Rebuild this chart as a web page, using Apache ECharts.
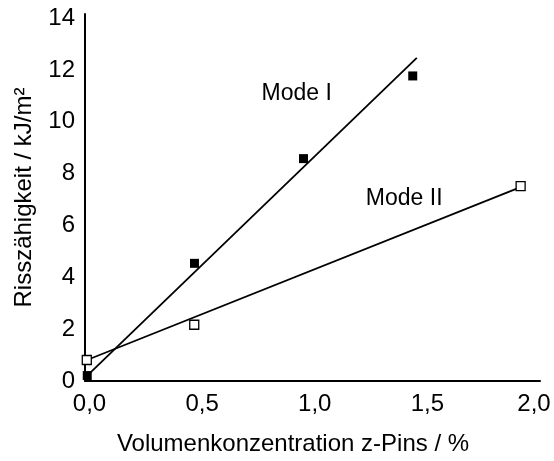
<!DOCTYPE html>
<html>
<head>
<meta charset="utf-8">
<script src="https://cdn.jsdelivr.net/npm/echarts@6/dist/echarts.min.js"></script>
<style>
html,body{margin:0;padding:0;background:#fff;}
#chart{width:554px;height:461px;}
</style>
</head>
<body>
<div id="chart"></div>
<script>
// ---- data ----
const xTicks = [0, 0.5, 1.0, 1.5, 2.0];
const yTicks = [0, 2, 4, 6, 8, 10, 12, 14];
const modeI_points = [[-0.01, 0.21], [0.466, 4.54], [0.95, 8.58], [1.435, 11.77]];
const modeII_points = [[-0.012, 0.81], [0.465, 2.17], [1.914, 7.52]];
const modeI_trend = [[-0.01, 0.21], [1.453, 12.47]];
const modeII_trend = [[-0.011, 0.81], [1.911, 7.47]];
const annotations = [
  { name: 'Mode I', value: [0.92, 11.08] },
  { name: 'Mode II', value: [1.397, 7.05] }
];
const xTitle = 'Volumenkonzentration z-Pins / %';
const yTitle = 'Risszähigkeit / kJ/m²';

const FONT = 'Arial, "Liberation Sans", sans-serif';
const chart = echarts.init(document.getElementById('chart'), null, { renderer: 'canvas' });

const fmtX = v => {
  const s = v.toFixed(1).replace('.', ',');
  return v === xTicks[xTicks.length - 1] ? '{r|' + s + '}' : s;
};

chart.setOption({
  animation: false,
  backgroundColor: '#fff',
  grid: { left: 85, right: 14, top: 14, bottom: 76.5, containLabel: false },
  xAxis: {
    type: 'value',
    min: -0.02,
    max: 2.0,
    axisLine: { show: true, onZero: false, lineStyle: { color: '#000', width: 2 } },
    axisTick: { show: false },
    splitLine: { show: false },
    axisLabel: {
      customValues: xTicks,
      formatter: fmtX,
      color: '#000', fontSize: 24, fontFamily: FONT, margin: 11,
      rich: { r: { color: '#000', fontSize: 24, fontFamily: FONT, padding: [0, 12, 0, 0] } }
    },
    name: xTitle,
    nameLocation: 'middle',
    nameGap: 51,
    nameTextStyle: { color: '#000', fontSize: 24, fontFamily: FONT, padding: [0, 39, 0, 0] }
  },
  yAxis: {
    type: 'value',
    min: 0,
    max: 14.16,
    interval: 2,
    axisLine: { show: true, onZero: false, lineStyle: { color: '#000', width: 2 } },
    axisTick: { show: false },
    splitLine: { show: false },
    axisLabel: {
      formatter: v => yTicks.includes(v) ? String(v) : '',
      showMaxLabel: false,
      color: '#000', fontSize: 24, fontFamily: FONT, margin: 10
    },
    name: yTitle,
    nameLocation: 'middle',
    nameGap: 49,
    nameTextStyle: { color: '#000', fontSize: 24, fontFamily: FONT }
  },
  series: [
    {
      type: 'line', data: modeI_trend, showSymbol: false, symbol: 'none',
      lineStyle: { color: '#000', width: 1.8 }, z: 2, silent: true
    },
    {
      type: 'line', data: modeII_trend, showSymbol: false, symbol: 'none',
      lineStyle: { color: '#000', width: 1.8 }, z: 2, silent: true
    },
    {
      type: 'scatter', data: modeI_points, symbol: 'rect', symbolSize: 9,
      itemStyle: { color: '#000', opacity: 1 }, z: 3
    },
    {
      type: 'scatter', data: modeII_points, symbol: 'rect', symbolSize: 9,
      itemStyle: { color: '#fff', borderColor: '#000', borderWidth: 1.3, opacity: 1 }, z: 3
    },
    {
      type: 'scatter', data: annotations, symbolSize: 1, z: 4, silent: true,
      itemStyle: { color: 'rgba(0,0,0,0)', opacity: 1 },
      label: {
        show: true, position: 'inside', formatter: p => p.name,
        color: '#000', fontSize: 23, fontFamily: FONT, opacity: 1,
        textBorderWidth: 0, textBorderColor: 'rgba(0,0,0,0)'
      }
    }
  ]
});
</script>
</body>
</html>
